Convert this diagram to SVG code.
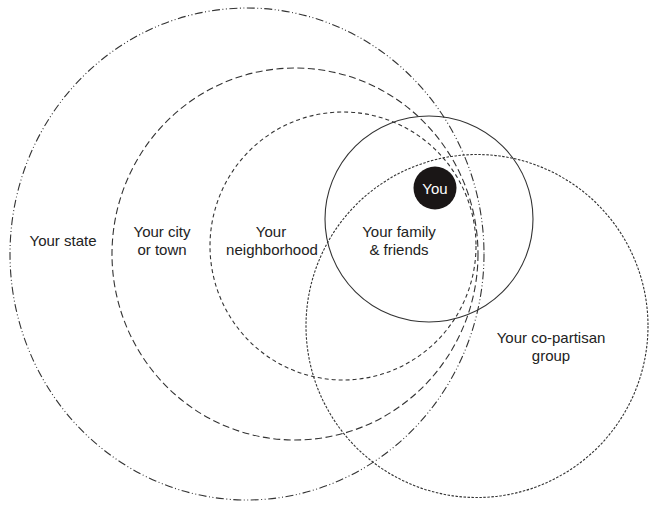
<svg xmlns="http://www.w3.org/2000/svg" width="650" height="506" viewBox="0 0 650 506">
<style>
.c{fill:none;stroke:#333;stroke-width:1.1}
.state{stroke-dasharray:8 2.5 1 2.5 1 2.5}
.city{stroke-dasharray:7 3.5}
.nbh{stroke-dasharray:4 3}
.part{stroke-dasharray:2.5 1.5}
text{font-family:"Liberation Sans",Arial,Helvetica,sans-serif;font-size:15px;fill:#222;text-anchor:middle}
</style>
<rect width="650" height="506" fill="#fff"/>
<g id="connectors"></g>
<g id="state"><ellipse class="c state" cx="247" cy="254" rx="237" ry="246"/><text x="63" y="246">Your state</text></g>
<g id="city"><ellipse class="c city" cx="295" cy="254" rx="183" ry="186"/><text x="162" y="237">Your city</text><text x="162" y="255">or town</text></g>
<g id="neighborhood"><ellipse class="c nbh" cx="343" cy="246" rx="133" ry="134"/><text x="271" y="237">Your</text><text x="272" y="255">neighborhood</text></g>
<g id="family"><ellipse class="c" cx="429" cy="219" rx="104" ry="103"/><text x="399" y="237">Your family</text><text x="399" y="255">&amp; friends</text></g>
<g id="partisan"><ellipse class="c part" cx="477" cy="326" rx="171" ry="171.5"/><text x="551" y="343">Your co-partisan</text><text x="551" y="361">group</text></g>
<g id="you"><circle cx="435" cy="188" r="21.5" fill="#1a1616"/><text x="435" y="193.5" style="fill:#fff">You</text></g>
</svg>
